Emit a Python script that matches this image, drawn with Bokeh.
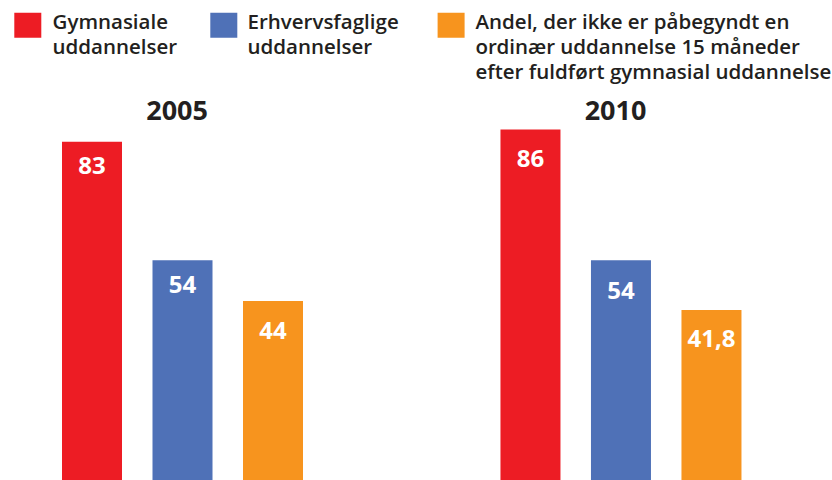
from bokeh.plotting import figure
from bokeh.models import Range1d, ColumnDataSource
from bokeh.core.properties import value
from bokeh.embed import file_html
from bokeh.resources import INLINE

# ---- data ----
years = ["2005", "2010"]
legend_lines = [
    ["Gymnasiale", "uddannelser"],
    ["Erhvervsfaglige", "uddannelser"],
    ["Andel, der ikke er påbegyndt en",
     "ordinær uddannelse 15 måneder",
     "efter fuldført gymnasial uddannelse"],
]
values_2005 = [83, 54, 44]
values_2010 = [86, 54, 41.8]
labels_2005 = ["83", "54", "44"]
labels_2010 = ["86", "54", "41,8"]
colors = ["#ED1C24", "#4F71B7", "#F7941E"]

# ---- layout / style constants ----
W, H = 832, 480
PAGE = 0
UNIT = 90.5            # px per category step
FIRST = 91.5           # page x of first bar center
GROUP_STEP = 4.845     # offset of 2nd group in category steps
PX_PER = 4.08          # px per value unit
BASE = 480             # page y of value 0
label_offsets = [[24, 24, 30], [28.5, 30, 29]]   # px below bar top

x0 = (PAGE - FIRST) / UNIT
x1 = x0 + W / UNIT
y1 = (BASE - PAGE) / PX_PER
y0 = (BASE - PAGE - H) / PX_PER

def dx(page_x):
    return x0 + (page_x - PAGE) / UNIT

def dy(page_y):
    return (BASE - page_y) / PX_PER

p = figure(width=W, height=H, x_range=Range1d(x0, x1), y_range=Range1d(y0, y1),
           toolbar_location=None, output_backend="svg", min_border=0,
           x_axis_location=None, y_axis_location=None)
p.grid.visible = False
p.outline_line_color = None
p.background_fill_color = "white"

FONT = value("Open Sans")
TXT = "#231F20"

for g, (vals, labs) in enumerate([(values_2005, labels_2005), (values_2010, labels_2010)]):
    xs = [g * GROUP_STEP + i for i in range(len(vals))]
    src = ColumnDataSource(dict(x=xs, top=vals, label=labs, color=colors,
                                off=label_offsets[g]))
    p.vbar(x="x", top="top", bottom=0, width=60 / UNIT, fill_color="color",
           line_color=None, source=src)
    p.text(x="x", y="top", text="label", text_align="center", text_baseline="middle",
           y_offset="off", text_color="white", text_font=FONT, text_font_style="bold",
           text_font_size="24px", source=src)
    p.text(x=[xs[1] - 0.06], y=[dy(109.5)], text=[years[g]], text_align="center",
           text_baseline="middle", text_color=TXT, text_font=FONT,
           text_font_style="bold", text_font_size="27px")

# ---- legend ----
sq_centers = [27.3, 223.3, 450.6]
text_left = [52, 247, 475]
line_centers = [20.5, 45.6, 70.6]
p.rect(x=[dx(c) for c in sq_centers], y=[dy(24.8)] * 3, width=27, height=25,
       width_units="screen", height_units="screen", fill_color=colors, line_color=None)
for k, lines in enumerate(legend_lines):
    p.text(x=[dx(text_left[k])] * len(lines), y=[dy(c) for c in line_centers[:len(lines)]],
           text=lines, text_align="left", text_baseline="middle", text_color=TXT,
           text_font=value("Open Sans SemiBold"), text_font_size="20.5px")

open("out.html", "w").write(file_html(p, INLINE))
